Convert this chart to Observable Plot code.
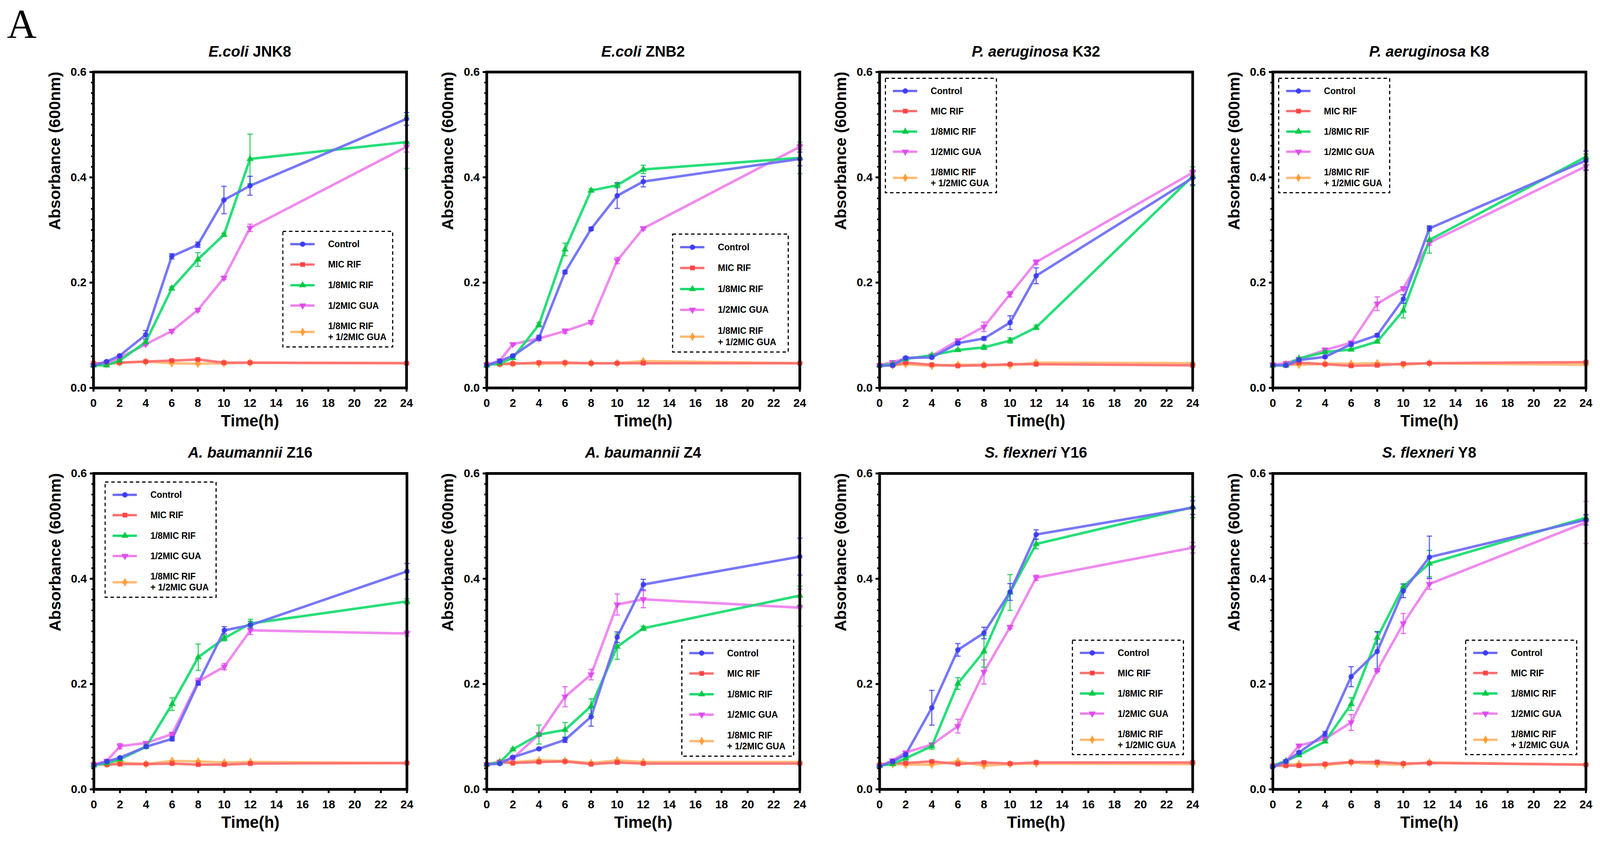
<!DOCTYPE html>
<html><head><meta charset="utf-8">
<script src="https://cdn.jsdelivr.net/npm/d3@7"></script>
<script src="https://cdn.jsdelivr.net/npm/@observablehq/plot@0.6"></script>
<style>
html,body{margin:0;padding:0;background:#fff;overflow:hidden;}
#root{position:relative;width:4150px;height:2164px;background:#fff;font-family:"Liberation Sans",Arial,sans-serif;overflow:hidden;transform-origin:0 0;}
.ptitle{position:absolute;font-weight:bold;font-size:39px;line-height:39px;text-align:center;white-space:nowrap;color:#000;}
.pbox{position:absolute;}
.pbox svg{max-width:none;display:block;}
.leg{position:absolute;}
#letter{position:absolute;left:18px;top:9px;font-family:"Liberation Serif","DejaVu Serif",serif;font-size:106px;line-height:106px;color:#000;}
</style></head>
<body><div id="root"><div id="letter">A</div></div>
<script>
// ---------- data ----------
const times = [0, 1, 2, 4, 6, 8, 10, 12, 24];
const seriesNames = ["Control", "MIC RIF", "1/8MIC RIF", "1/2MIC GUA", "1/8MIC RIF\n+ 1/2MIC GUA"];
const xTicks = [0, 2, 4, 6, 8, 10, 12, 14, 16, 18, 20, 22, 24];
const yTicks = [0, 0.2, 0.4, 0.6];
const yLabel = "Absorbance (600nm)";
const xLabel = "Time(h)";
const panelTitles = [
  ["E.coli", " JNK8"], ["E.coli", " ZNB2"], ["P. aeruginosa", " K32"], ["P. aeruginosa", " K8"],
  ["A. baumannii", " Z16"], ["A. baumannii", " Z4"], ["S. flexneri", " Y16"], ["S. flexneri", " Y8"]
];
// rows: Control, MIC RIF, 1/8MIC RIF, 1/2MIC GUA, 1/8MIC RIF + 1/2MIC GUA
const JNK8 = [
  [0.043, 0.050, 0.061, 0.101, 0.250, 0.272, 0.357, 0.384, 0.511],
  [0.047, 0.047, 0.048, 0.050, 0.052, 0.054, 0.048, 0.048, 0.047],
  [0.043, 0.043, 0.052, 0.087, 0.189, 0.244, 0.291, 0.435, 0.467],
  [0.043, 0.047, 0.057, 0.083, 0.108, 0.148, 0.209, 0.304, 0.458],
  [0.043, 0.045, 0.048, 0.050, 0.047, 0.046, 0.047, 0.048, 0.047]
];
const JNK8_sd = [
  [0.001, 0.002, 0.002, 0.008, 0.005, 0.005, 0.026, 0.018, 0.012],
  [0.001, 0.001, 0.001, 0.001, 0.001, 0.001, 0.001, 0.001, 0.001],
  [0.001, 0.002, 0.002, 0.003, 0.003, 0.013, 0.003, 0.047, 0.050],
  [0.001, 0.002, 0.002, 0.002, 0.003, 0.003, 0.003, 0.007, 0.010],
  [0.001, 0.001, 0.001, 0.001, 0.001, 0.001, 0.001, 0.001, 0.001]
];
const ZNB2 = [
  [0.043, 0.051, 0.061, 0.095, 0.220, 0.302, 0.365, 0.392, 0.435],
  [0.045, 0.045, 0.046, 0.048, 0.048, 0.047, 0.047, 0.047, 0.047],
  [0.043, 0.047, 0.057, 0.120, 0.263, 0.375, 0.385, 0.415, 0.437],
  [0.044, 0.052, 0.083, 0.094, 0.108, 0.125, 0.242, 0.303, 0.458],
  [0.044, 0.046, 0.047, 0.046, 0.047, 0.047, 0.047, 0.051, 0.047]
];
const ZNB2_sd = [
  [0.001, 0.002, 0.002, 0.005, 0.003, 0.003, 0.024, 0.010, 0.013],
  [0.001, 0.001, 0.001, 0.001, 0.001, 0.001, 0.001, 0.001, 0.001],
  [0.001, 0.002, 0.003, 0.004, 0.012, 0.003, 0.005, 0.008, 0.030],
  [0.001, 0.002, 0.002, 0.003, 0.004, 0.003, 0.006, 0.003, 0.005],
  [0.001, 0.001, 0.001, 0.001, 0.001, 0.001, 0.001, 0.001, 0.001]
];
const K32 = [
  [0.042, 0.043, 0.057, 0.058, 0.085, 0.094, 0.124, 0.213, 0.399],
  [0.043, 0.043, 0.048, 0.044, 0.042, 0.043, 0.045, 0.045, 0.043],
  [0.043, 0.045, 0.055, 0.062, 0.072, 0.077, 0.090, 0.115, 0.402],
  [0.043, 0.049, 0.056, 0.061, 0.090, 0.116, 0.178, 0.239, 0.409],
  [0.043, 0.043, 0.045, 0.042, 0.044, 0.044, 0.043, 0.048, 0.047]
];
const K32_sd = [
  [0.001, 0.002, 0.002, 0.002, 0.003, 0.003, 0.013, 0.015, 0.013],
  [0.001, 0.001, 0.001, 0.001, 0.001, 0.001, 0.001, 0.001, 0.001],
  [0.001, 0.002, 0.002, 0.002, 0.002, 0.004, 0.005, 0.004, 0.018],
  [0.001, 0.002, 0.002, 0.002, 0.003, 0.009, 0.005, 0.004, 0.005],
  [0.001, 0.001, 0.001, 0.001, 0.001, 0.001, 0.001, 0.001, 0.001]
];
const K8 = [
  [0.043, 0.043, 0.053, 0.059, 0.083, 0.100, 0.169, 0.303, 0.432],
  [0.044, 0.043, 0.048, 0.045, 0.042, 0.043, 0.046, 0.047, 0.049],
  [0.043, 0.043, 0.056, 0.068, 0.073, 0.088, 0.147, 0.281, 0.439],
  [0.044, 0.047, 0.055, 0.072, 0.086, 0.160, 0.189, 0.276, 0.421],
  [0.044, 0.045, 0.044, 0.046, 0.046, 0.047, 0.044, 0.047, 0.044]
];
const K8_sd = [
  [0.001, 0.002, 0.002, 0.002, 0.004, 0.003, 0.008, 0.005, 0.018],
  [0.001, 0.001, 0.001, 0.001, 0.001, 0.001, 0.001, 0.001, 0.001],
  [0.001, 0.002, 0.002, 0.002, 0.002, 0.002, 0.014, 0.025, 0.005],
  [0.001, 0.002, 0.002, 0.004, 0.003, 0.013, 0.003, 0.005, 0.008],
  [0.001, 0.001, 0.001, 0.001, 0.001, 0.001, 0.001, 0.001, 0.001]
];
const Z16 = [
  [0.046, 0.053, 0.060, 0.081, 0.096, 0.202, 0.302, 0.312, 0.414],
  [0.048, 0.047, 0.048, 0.048, 0.049, 0.047, 0.047, 0.049, 0.050],
  [0.046, 0.050, 0.057, 0.081, 0.162, 0.251, 0.287, 0.315, 0.357],
  [0.047, 0.054, 0.082, 0.088, 0.105, 0.205, 0.233, 0.302, 0.296],
  [0.048, 0.048, 0.051, 0.048, 0.054, 0.053, 0.051, 0.052, 0.050]
];
const Z16_sd = [
  [0.001, 0.002, 0.002, 0.002, 0.004, 0.004, 0.007, 0.007, 0.015],
  [0.001, 0.001, 0.001, 0.001, 0.001, 0.001, 0.001, 0.001, 0.001],
  [0.001, 0.002, 0.002, 0.003, 0.012, 0.025, 0.005, 0.008, 0.005],
  [0.001, 0.002, 0.005, 0.002, 0.003, 0.006, 0.006, 0.008, 0.005],
  [0.001, 0.001, 0.001, 0.001, 0.001, 0.001, 0.001, 0.001, 0.001]
];
const Z4 = [
  [0.047, 0.049, 0.061, 0.077, 0.094, 0.138, 0.289, 0.389, 0.442],
  [0.047, 0.052, 0.050, 0.052, 0.053, 0.048, 0.051, 0.049, 0.049],
  [0.048, 0.051, 0.076, 0.104, 0.113, 0.158, 0.271, 0.306, 0.368],
  [0.047, 0.052, 0.059, 0.104, 0.176, 0.218, 0.351, 0.361, 0.345],
  [0.048, 0.052, 0.052, 0.055, 0.054, 0.050, 0.055, 0.052, 0.052]
];
const Z4_sd = [
  [0.001, 0.002, 0.002, 0.002, 0.005, 0.018, 0.010, 0.010, 0.035],
  [0.001, 0.001, 0.001, 0.001, 0.001, 0.001, 0.001, 0.001, 0.001],
  [0.001, 0.002, 0.002, 0.018, 0.014, 0.014, 0.024, 0.004, 0.018],
  [0.001, 0.002, 0.002, 0.003, 0.019, 0.010, 0.020, 0.016, 0.035],
  [0.001, 0.001, 0.001, 0.001, 0.001, 0.001, 0.001, 0.001, 0.001]
];
const Y16 = [
  [0.044, 0.053, 0.066, 0.155, 0.265, 0.297, 0.375, 0.484, 0.535],
  [0.047, 0.050, 0.050, 0.053, 0.048, 0.051, 0.049, 0.051, 0.051],
  [0.045, 0.048, 0.059, 0.082, 0.201, 0.262, 0.374, 0.466, 0.536],
  [0.044, 0.055, 0.070, 0.085, 0.120, 0.223, 0.308, 0.402, 0.459],
  [0.047, 0.048, 0.047, 0.047, 0.053, 0.045, 0.048, 0.049, 0.048]
];
const Y16_sd = [
  [0.001, 0.002, 0.002, 0.033, 0.012, 0.011, 0.016, 0.009, 0.013],
  [0.001, 0.001, 0.001, 0.001, 0.001, 0.001, 0.001, 0.001, 0.001],
  [0.001, 0.002, 0.002, 0.006, 0.011, 0.030, 0.034, 0.009, 0.020],
  [0.001, 0.002, 0.002, 0.002, 0.013, 0.023, 0.003, 0.005, 0.010],
  [0.001, 0.001, 0.001, 0.001, 0.001, 0.001, 0.001, 0.001, 0.001]
];
const Y8 = [
  [0.043, 0.053, 0.070, 0.105, 0.214, 0.262, 0.377, 0.441, 0.512],
  [0.045, 0.045, 0.045, 0.048, 0.052, 0.052, 0.049, 0.050, 0.047],
  [0.045, 0.054, 0.065, 0.091, 0.162, 0.288, 0.385, 0.429, 0.516],
  [0.044, 0.053, 0.083, 0.096, 0.127, 0.226, 0.315, 0.390, 0.507],
  [0.044, 0.047, 0.048, 0.046, 0.051, 0.048, 0.047, 0.051, 0.047]
];
const Y8_sd = [
  [0.001, 0.002, 0.002, 0.005, 0.019, 0.037, 0.013, 0.040, 0.010],
  [0.001, 0.001, 0.001, 0.001, 0.001, 0.001, 0.001, 0.001, 0.001],
  [0.001, 0.002, 0.002, 0.002, 0.012, 0.012, 0.005, 0.025, 0.005],
  [0.001, 0.002, 0.002, 0.002, 0.015, 0.003, 0.019, 0.010, 0.040],
  [0.001, 0.001, 0.001, 0.001, 0.001, 0.001, 0.001, 0.001, 0.001]
];

// ---------- style ----------
const lineColors = ["#6b6bf7", "#ff6e6e", "#14dc6e", "#ee80ee", "#ffba72"];
const markColors = ["#3535f2", "#ff3c3c", "#00c43c", "#dd44ee", "#ff9a30"];
const triangleDown = {
  draw(ctx, size) {
    const y = -Math.sqrt(size / (Math.sqrt(3) * 3));
    ctx.moveTo(0, -y * 2);
    ctx.lineTo(-Math.sqrt(3) * y, y);
    ctx.lineTo(Math.sqrt(3) * y, y);
    ctx.closePath();
  }
};
const capSymbol = { draw(ctx) { ctx.moveTo(-7, 0); ctx.lineTo(7, 0); } };
const symbols = [d3.symbolCircle, d3.symbolSquare, d3.symbolTriangle, triangleDown, d3.symbolDiamond];
const drawOrder = [4, 1, 3, 2, 0];

const FW = 812, FH = 809, ML = 150, MR = 28, MT = 20, MB = 130;
const layout = [
  { data: JNK8, sd: JNK8_sd, fx: 242, fy: 184, leg: [491, 408, 285, 296] },
  { data: ZNB2, sd: ZNB2_sd, fx: 1262, fy: 184, leg: [482, 415, 300, 302] },
  { data: K32, sd: K32_sd, fx: 2281, fy: 184, leg: [15, 16, 288, 293] },
  { data: K8, sd: K8_sd, fx: 3301, fy: 184, leg: [15, 16, 288, 293] },
  { data: Z16, sd: Z16_sd, fx: 243, fy: 1212, leg: [29, 22, 288, 295] },
  { data: Z4, sd: Z4_sd, fx: 1262, fy: 1212, leg: [506, 427, 290, 297] },
  { data: Y16, sd: Y16_sd, fx: 2281, fy: 1212, leg: [500, 427, 288, 293] },
  { data: Y8, sd: Y8_sd, fx: 3301, fy: 1212, leg: [500, 427, 288, 293] }
];
const yMinor = d3.range(0, 61, 2).map(d => d / 100);
const root = document.getElementById("root");
// the browser viewport may be narrower than the 4150 px design: fit horizontally
const sx = Math.min(1, (window.innerWidth || 4150) / 4150);
if (sx < 1) root.style.transform = `scale(${sx}, 1)`;

function makePlot(p) {
  const rows = [];
  p.data.forEach((arr, s) => arr.forEach((v, i) => rows.push({ s, t: times[i], v, sd: p.sd[s][i] })));
  const marks = [];
  marks.push(Plot.axisY({ ticks: yMinor, tickSize: 6, strokeWidth: 4, tickFormat: () => "", label: null }));
  marks.push(Plot.axisY({ ticks: yTicks, tickSize: 10, tickPadding: 8, strokeWidth: 5, tickFormat: d3.format(".1f"), fontSize: 30, fontWeight: "bold", label: null }));
  marks.push(Plot.axisX({ ticks: xTicks, tickSize: 10, tickPadding: 17, strokeWidth: 5, tickFormat: d => String(d), fontSize: 30, fontWeight: "bold", label: null }));
  marks.push(Plot.text([yLabel], { text: d => d, frameAnchor: "left", rotate: -90, dx: -100, fontSize: 41, fontWeight: "bold", fill: "black" }));
  marks.push(Plot.text([xLabel], { text: d => d, frameAnchor: "bottom", dy: 98, fontSize: 42, fontWeight: "bold", fill: "black" }));
  for (const s of drawOrder) {
    const r = rows.filter(d => d.s === s);
    marks.push(Plot.line(r, { x: "t", y: "v", stroke: lineColors[s], strokeWidth: 6.5, strokeOpacity: 0.92 }));
  }
  for (const s of drawOrder) {
    const r = rows.filter(d => d.s === s);
    marks.push(Plot.ruleX(r, { x: "t", y1: d => d.v - d.sd, y2: d => d.v + d.sd, stroke: markColors[s], strokeWidth: 3, strokeOpacity: 0.75 }));
    marks.push(Plot.dot(r, { x: "t", y: d => d.v + d.sd, symbol: capSymbol, stroke: markColors[s], strokeWidth: 3, strokeOpacity: 0.75, fill: "none" }));
    marks.push(Plot.dot(r, { x: "t", y: d => d.v - d.sd, symbol: capSymbol, stroke: markColors[s], strokeWidth: 3, strokeOpacity: 0.75, fill: "none" }));
  }
  for (const s of drawOrder) {
    const r = rows.filter(d => d.s === s);
    marks.push(Plot.dot(r, { x: "t", y: "v", symbol: symbols[s], r: 7, fill: markColors[s], fillOpacity: 0.85, stroke: "none" }));
  }
  marks.push(Plot.frame({ stroke: "black", strokeWidth: 7 }));
  return Plot.plot({
    width: ML + FW + MR, height: MT + FH + MB,
    marginLeft: ML, marginRight: MR, marginTop: MT, marginBottom: MB,
    x: { domain: [0, 24] }, y: { domain: [0, 0.6] },
    style: { fontFamily: "'Liberation Sans', Arial, sans-serif", background: "transparent", color: "black", overflow: "visible" },
    marks
  });
}

function makeLegend(p) {
  const [rx, ry, w, h] = p.leg;
  const svg = d3.create("svg").attr("width", w + 6).attr("height", h + 6)
    .style("font-family", "'Liberation Sans', Arial, sans-serif");
  svg.append("rect").attr("x", 1.5).attr("y", 1.5).attr("width", w).attr("height", h)
    .attr("fill", "none").attr("stroke", "black").attr("stroke-width", 3).attr("stroke-dasharray", "9,7");
  const fr = [0.111, 0.287, 0.466, 0.642, 0.870];
  seriesNames.forEach((name, s) => {
    const y = 1.5 + fr[s] * h;
    const g = svg.append("g");
    g.append("line").attr("x1", 21).attr("x2", 84).attr("y1", y).attr("y2", y)
      .attr("stroke", lineColors[s]).attr("stroke-width", 6);
    g.append("path").attr("transform", `translate(53,${y})`)
      .attr("d", d3.symbol(symbols[s], 150)()).attr("fill", markColors[s]).attr("fill-opacity", 0.9);
    const lines = name.split("\n");
    const t = g.append("text").attr("x", 119).attr("font-size", 23).attr("font-weight", "bold").attr("fill", "black");
    lines.forEach((ln, i) => {
      t.append("tspan").attr("x", 119)
        .attr("y", y + (lines.length === 1 ? 0 : (i === 0 ? -0.05 * h : 0.045 * h)))
        .attr("dy", "0.35em").text(ln);
    });
  });
  return svg.node();
}

layout.forEach((p, k) => {
  const box = document.createElement("div");
  box.className = "pbox";
  box.style.left = (p.fx - ML) + "px";
  box.style.top = (p.fy - MT) + "px";
  box.style.width = (ML + FW + MR) + "px";
  box.appendChild(makePlot(p));
  root.appendChild(box);

  const title = document.createElement("div");
  title.className = "ptitle";
  title.style.left = p.fx + "px";
  title.style.width = FW + "px";
  title.style.top = (p.fy < 1000 ? 112 : 1139) + "px";
  const it = document.createElement("i");
  it.textContent = panelTitles[k][0];
  title.appendChild(it);
  title.appendChild(document.createTextNode(panelTitles[k][1]));
  root.appendChild(title);

  const leg = document.createElement("div");
  leg.className = "leg";
  leg.style.left = (p.fx + p.leg[0] - 1.5) + "px";
  leg.style.top = (p.fy + p.leg[1] - 1.5) + "px";
  leg.appendChild(makeLegend(p));
  root.appendChild(leg);
});
</script></body></html>
